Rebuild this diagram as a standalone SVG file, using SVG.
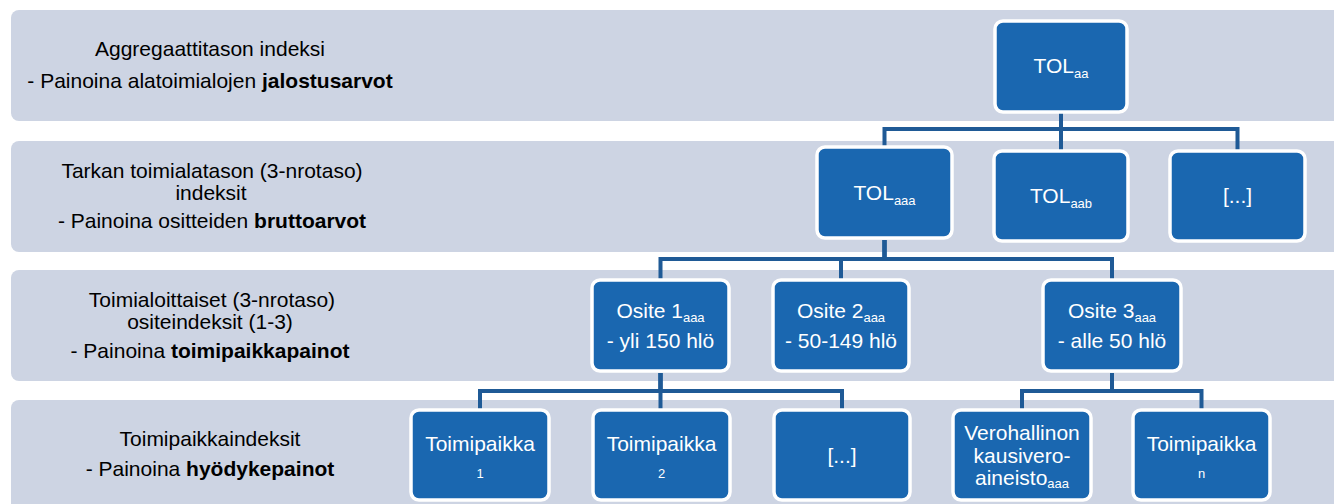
<svg xmlns="http://www.w3.org/2000/svg" width="1334" height="504" viewBox="0 0 1334 504">
<style>
.band{fill:#cdd4e3}
.lbl{font-family:"Liberation Sans",Arial,sans-serif;font-size:21px;fill:#000;text-anchor:middle}
.node rect{fill:#1a67b0;stroke:#fff;stroke-width:3.5}
.node text{font-family:"Liberation Sans",Arial,sans-serif;font-size:21px;fill:#fff;text-anchor:middle}
.node .sub{font-size:13px}
.conn path{fill:none;stroke:#1f5a96;stroke-width:4}
.b{font-weight:bold}
</style>
<rect width="1334" height="504" fill="#fff"/>
<g id="bands">
<rect class="band" x="11" y="10" width="1340" height="111" rx="8"/>
<rect class="band" x="11" y="141" width="1340" height="111" rx="8"/>
<rect class="band" x="11" y="270" width="1340" height="111" rx="8"/>
<rect class="band" x="11" y="400" width="1340" height="120" rx="8"/>
</g>
<g id="labels">
<text class="lbl" x="210" y="56">Aggregaattitason indeksi</text>
<text class="lbl" x="210" y="88">- Painoina alatoimialojen <tspan class="b">jalostusarvot</tspan></text>
<text class="lbl" x="212" y="178">Tarkan toimialatason (3-nrotaso)</text>
<text class="lbl" x="211" y="200">indeksit</text>
<text class="lbl" x="212" y="228">- Painoina ositteiden <tspan class="b">bruttoarvot</tspan></text>
<text class="lbl" x="212" y="307">Toimialoittaiset (3-nrotaso)</text>
<text class="lbl" x="210" y="329">ositeindeksit (1-3)</text>
<text class="lbl" x="210" y="358">- Painoina <tspan class="b">toimipaikkapainot</tspan></text>
<text class="lbl" x="210" y="446">Toimipaikkaindeksit</text>
<text class="lbl" x="210" y="476">- Painoina <tspan class="b">hyödykepainot</tspan></text>
</g>
<g id="connectors" class="conn">
<path d="M1061 112 V129 H884.5 V147"/>
<path d="M1061 112 V151"/>
<path d="M1061 112 V129 H1237.5 V151"/>
<path d="M884.5 240 V259 H660.5 V280"/>
<path d="M884.5 240 V259 H841 V280"/>
<path d="M884.5 240 V259 H1112 V280"/>
<path d="M660.5 373 V391 H480 V410"/>
<path d="M660.5 373 V410"/>
<path d="M660.5 373 V391 H842 V410"/>
<path d="M1112 373 V391 H1022 V410"/>
<path d="M1112 373 V391 H1201.5 V410"/>
</g>
<g id="n-tol-aa" class="node"><rect x="995" y="21" width="132" height="91" rx="8"/><text x="1061" y="73">TOL<tspan class="sub" dy="5">aa</tspan></text></g>
<g id="n-tol-aaa" class="node"><rect x="817" y="147" width="135" height="91" rx="8"/><text x="884.5" y="200">TOL<tspan class="sub" dy="5">aaa</tspan></text></g>
<g id="n-tol-aab" class="node"><rect x="994" y="151" width="134" height="90" rx="8"/><text x="1061" y="203">TOL<tspan class="sub" dy="5">aab</tspan></text></g>
<g id="n-tol-more" class="node"><rect x="1170" y="151" width="135" height="90" rx="8"/><text x="1237.5" y="203">[...]</text></g>
<g id="n-osite1" class="node"><rect x="592" y="280" width="137" height="91" rx="8"/><text x="660.5" y="318">Osite 1<tspan class="sub" dy="4">aaa</tspan></text><text x="660.5" y="348">- yli 150 hlö</text></g>
<g id="n-osite2" class="node"><rect x="773" y="280" width="136" height="91" rx="8"/><text x="841" y="318">Osite 2<tspan class="sub" dy="4">aaa</tspan></text><text x="841" y="348">- 50-149 hlö</text></g>
<g id="n-osite3" class="node"><rect x="1043" y="280" width="138" height="91" rx="8"/><text x="1112" y="318">Osite 3<tspan class="sub" dy="4">aaa</tspan></text><text x="1112" y="348">- alle 50 hlö</text></g>
<g id="n-tp1" class="node"><rect x="411" y="410" width="138" height="90" rx="8"/><text x="480" y="451">Toimipaikka</text><text class="sub" x="480" y="478">1</text></g>
<g id="n-tp2" class="node"><rect x="593" y="410" width="137" height="90" rx="8"/><text x="661.5" y="451">Toimipaikka</text><text class="sub" x="661.5" y="478">2</text></g>
<g id="n-tp-more" class="node"><rect x="774" y="410" width="136" height="90" rx="8"/><text x="842" y="463">[...]</text></g>
<g id="n-vero" class="node"><rect x="953" y="410" width="138" height="90" rx="8"/><text x="1022" y="440">Verohallinon</text><text x="1022" y="463">kausivero-</text><text x="1022" y="485">aineisto<tspan class="sub" dy="3">aaa</tspan></text></g>
<g id="n-tpn" class="node"><rect x="1133" y="410" width="137" height="90" rx="8"/><text x="1201.5" y="451">Toimipaikka</text><text class="sub" x="1201.5" y="478">n</text></g>
</svg>
